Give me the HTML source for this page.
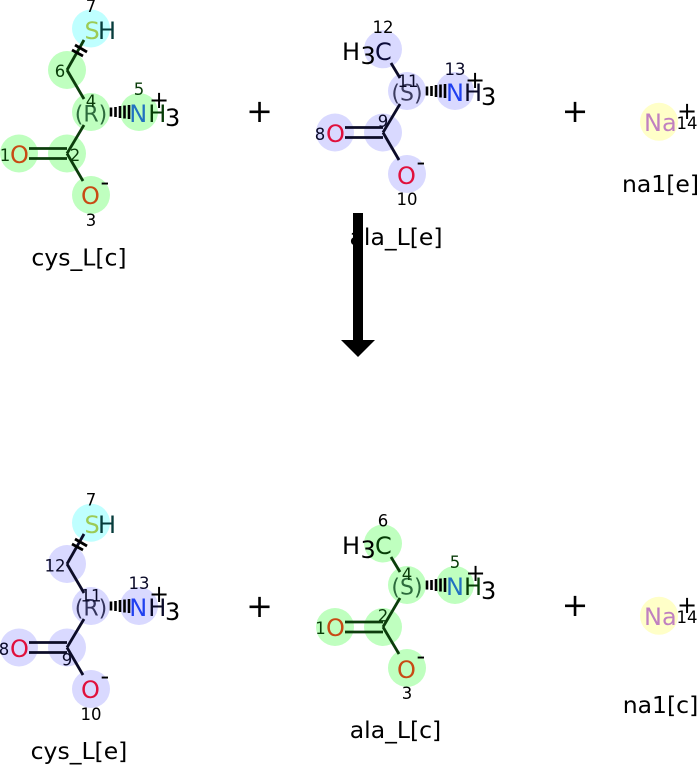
<!DOCTYPE html>
<html><head><meta charset="utf-8"><style>
html,body{margin:0;padding:0;background:#fff}
svg{display:block}
text{font-family:"DejaVu Sans",sans-serif;fill:#000}
.a{font-size:24px}.n{font-size:16.5px;text-anchor:middle}.l{font-size:23.5px;text-anchor:middle}
.c{font-size:22px;text-anchor:middle}
.b line{stroke:#000;stroke-width:2.8;fill:none}
.h line{stroke-width:2.6}
.gn{fill:#bfffbf}.pu{fill:#d9d9ff}.cy{fill:#bfffff}.ye{fill:#ffffc8}
.g line{stroke:#0c3d0c}.p line{stroke:#0c0c28}
.t line{stroke:#000}
.pl{font-size:32px;text-anchor:middle}
</style></head><body>
<svg width="697" height="765" viewBox="0 0 697 765" xmlns="http://www.w3.org/2000/svg">

<!-- Top left: cys_L[c] -->
<circle class="cy" cx="91" cy="28.500" r="19"/>
<g class="gn"><circle cx="67" cy="70" r="19"/><circle cx="91" cy="112" r="19"/><circle cx="139" cy="112" r="19"/><circle cx="67" cy="153.500" r="19"/><circle cx="19" cy="153.500" r="19"/><circle cx="91" cy="195" r="19"/></g>
<g class="b g">
<line x1="67" y1="70" x2="84" y2="40"/>
<line x1="67" y1="70" x2="84" y2="99"/>
<line x1="84" y1="125" x2="67" y2="153.500"/>
<line x1="29" y1="148.500" x2="67" y2="148.500"/><line x1="29" y1="158.500" x2="67" y2="158.500"/>
<line x1="67" y1="153.500" x2="83" y2="181"/>
</g>
<g class="b t"><line x1="72" y1="50" x2="83" y2="56"/><line x1="75" y1="45" x2="87" y2="52"/></g>
<g class="b h"><line x1="111" y1="107.500" x2="111" y2="116.500"/><line x1="115.500" y1="107" x2="115.500" y2="117"/><line x1="120" y1="106" x2="120" y2="118"/><line x1="124.500" y1="105.500" x2="124.500" y2="118.500"/><line x1="129" y1="105" x2="129" y2="119"/></g>
<text class="a" x="84.500" y="39" style="fill:#9ccb55">S</text><text class="a" x="98" y="39" style="fill:#063c3c">H</text>
<text class="n" x="91" y="12">7</text>
<text class="n" x="60" y="77" style="fill:#0a3d0a">6</text>
<text class="c" x="91" y="121.500" style="fill:#2c6b3c">(R)</text>
<text class="n" x="91" y="107" style="fill:#0a3d0a">4</text>
<text class="n" x="139" y="95" style="fill:#0a3d0a">5</text>
<text class="a" x="129.300" y="122" style="fill:#2272c0">N</text><text class="a" x="148.300" y="122" style="fill:#063c06">H</text><text class="a" x="165" y="126">3</text>
<text class="a" x="149" y="108">+</text>
<text class="a" x="10" y="163" style="fill:#c84a14">O</text>
<text class="n" x="5" y="161" style="fill:#0a3d0a">1</text>
<text class="n" x="75" y="161" style="fill:#0a3d0a">2</text>
<text class="a" x="81" y="204" style="fill:#c84a14">O</text>
<text class="a" x="100.500" y="190">-</text>
<text class="n" x="91" y="226">3</text>
<text class="l" x="79" y="265.500">cys_L[c]</text>

<!-- Top middle: ala_L[e] -->
<g class="pu"><circle cx="383" cy="49.300" r="19"/><circle cx="407" cy="91" r="19"/><circle cx="455" cy="91" r="19"/><circle cx="383" cy="132.500" r="19"/><circle cx="335" cy="132.500" r="19"/><circle cx="407" cy="174" r="19"/></g>
<g class="b p">
<line x1="391" y1="63" x2="400" y2="78"/>
<line x1="400" y1="104" x2="383" y2="132.500"/>
<line x1="345" y1="127.500" x2="383" y2="127.500"/><line x1="345" y1="137.500" x2="383" y2="137.500"/>
<line x1="383" y1="132.500" x2="399" y2="160"/>
</g>
<g class="b h"><line x1="427" y1="86.500" x2="427" y2="95.500"/><line x1="431.500" y1="86" x2="431.500" y2="96"/><line x1="436" y1="85" x2="436" y2="97"/><line x1="440.500" y1="84.500" x2="440.500" y2="97.500"/><line x1="445" y1="84" x2="445" y2="98"/></g>
<text class="a" x="342" y="60">H</text><text class="a" x="360.500" y="64">3</text><text class="a" x="375" y="60" style="fill:#0c0c3a">C</text>
<text class="n" x="383" y="33">12</text>
<text class="c" x="407" y="100.500" style="fill:#3c3c60">(S)</text>
<text class="n" x="408" y="87" style="fill:#0a0a28">11</text>
<text class="n" x="455" y="75" style="fill:#0a0a28">13</text>
<text class="a" x="446" y="101" style="fill:#2040f0">N</text><text class="a" x="464" y="101" style="fill:#0a0a28">H</text><text class="a" x="481" y="105">3</text>
<text class="a" x="465" y="88">+</text>
<text class="a" x="326" y="142" style="fill:#e0103c">O</text>
<text class="n" x="320" y="140" style="fill:#0a0a28">8</text>
<text class="n" x="383" y="127" style="fill:#0a0a28">9</text>
<text class="a" x="397" y="184" style="fill:#e0103c">O</text>
<text class="a" x="416.500" y="170">-</text>
<text class="n" x="407" y="205">10</text>
<text class="l" x="396" y="245">ala_L[e]</text>

<!-- Top right: na1[e] -->
<circle class="ye" cx="659" cy="121.800" r="19"/>
<text class="a" x="644" y="131" style="fill:#c080c0">Na</text>
<text class="a" x="677" y="119">+</text>
<text class="n" x="687" y="129">14</text>
<text class="l" x="660.500" y="192">na1[e]</text>

<!-- Plus signs -->
<text class="pl" x="259.500" y="122">+</text>
<text class="pl" x="575" y="122">+</text>
<text class="pl" x="259.500" y="617">+</text>
<text class="pl" x="575" y="616">+</text>

<!-- Arrow -->
<rect x="353" y="213" width="10" height="128" fill="#000"/>
<polygon points="341,340 375,340 358,357" fill="#000"/>

<!-- Bottom left: cys_L[e] -->
<circle class="cy" cx="91" cy="522.700" r="19"/>
<g class="pu"><circle cx="67" cy="564" r="19"/><circle cx="91" cy="606" r="19"/><circle cx="139" cy="606" r="19"/><circle cx="67" cy="647.500" r="19"/><circle cx="19" cy="647.500" r="19"/><circle cx="91" cy="689" r="19"/></g>
<g class="b p">
<line x1="67" y1="564" x2="84" y2="534"/>
<line x1="67" y1="564" x2="84" y2="593"/>
<line x1="84" y1="619" x2="67" y2="647.500"/>
<line x1="29" y1="642.500" x2="67" y2="642.500"/><line x1="29" y1="652.500" x2="67" y2="652.500"/>
<line x1="67" y1="647.500" x2="83" y2="675"/>
</g>
<g class="b t"><line x1="72" y1="544" x2="83" y2="550"/><line x1="75" y1="539" x2="87" y2="546"/></g>
<g class="b h"><line x1="111" y1="601.500" x2="111" y2="610.500"/><line x1="115.500" y1="601" x2="115.500" y2="611"/><line x1="120" y1="600" x2="120" y2="612"/><line x1="124.500" y1="599.500" x2="124.500" y2="612.500"/><line x1="129" y1="599" x2="129" y2="613"/></g>
<text class="a" x="84.500" y="533" style="fill:#9ccb55">S</text><text class="a" x="98" y="533" style="fill:#063c3c">H</text>
<text class="n" x="91" y="505.500">7</text>
<text class="n" x="55" y="571.500" style="fill:#0a0a28">12</text>
<text class="c" x="91" y="615.500" style="fill:#33335c">(R)</text>
<text class="n" x="91" y="601.500" style="fill:#0a0a28">11</text>
<text class="n" x="139" y="589" style="fill:#0a0a28">13</text>
<text class="a" x="129.300" y="616" style="fill:#2040f0">N</text><text class="a" x="148.300" y="616" style="fill:#0a0a28">H</text><text class="a" x="165" y="620">3</text>
<text class="a" x="149" y="602">+</text>
<text class="a" x="10" y="657" style="fill:#e0103c">O</text>
<text class="n" x="4" y="655" style="fill:#0a0a28">8</text>
<text class="n" x="67" y="665.500" style="fill:#0a0a28">9</text>
<text class="a" x="81" y="698" style="fill:#e0103c">O</text>
<text class="a" x="100.500" y="684">-</text>
<text class="n" x="91" y="720">10</text>
<text class="l" x="79" y="759">cys_L[e]</text>

<!-- Bottom middle: ala_L[c] -->
<g class="gn"><circle cx="383" cy="543.500" r="19"/><circle cx="407" cy="585" r="19"/><circle cx="455" cy="585" r="19"/><circle cx="383" cy="627" r="19"/><circle cx="335" cy="627" r="19"/><circle cx="407" cy="668" r="19"/></g>
<g class="b g">
<line x1="391" y1="557" x2="400" y2="572"/>
<line x1="400" y1="598" x2="383" y2="627"/>
<line x1="345" y1="622" x2="383" y2="622"/><line x1="345" y1="632" x2="383" y2="632"/>
<line x1="383" y1="627" x2="399" y2="654"/>
</g>
<g class="b h"><line x1="427" y1="580.500" x2="427" y2="589.500"/><line x1="431.500" y1="580" x2="431.500" y2="590"/><line x1="436" y1="579" x2="436" y2="591"/><line x1="440.500" y1="578.500" x2="440.500" y2="591.500"/><line x1="445" y1="578" x2="445" y2="592"/></g>
<text class="a" x="342" y="554">H</text><text class="a" x="360.500" y="558">3</text><text class="a" x="375" y="554" style="fill:#063c06">C</text>
<text class="n" x="383" y="526.500">6</text>
<text class="c" x="407" y="594.500" style="fill:#2c6b3c">(S)</text>
<text class="n" x="407" y="580" style="fill:#0a3d0a">4</text>
<text class="n" x="455" y="568" style="fill:#0a3d0a">5</text>
<text class="a" x="446" y="595" style="fill:#2272c0">N</text><text class="a" x="464" y="595" style="fill:#063c06">H</text><text class="a" x="481" y="599">3</text>
<text class="a" x="465.500" y="581">+</text>
<text class="a" x="326" y="636" style="fill:#c84a14">O</text>
<text class="n" x="320.500" y="634" style="fill:#0a3d0a">1</text>
<text class="n" x="383" y="621.500" style="fill:#0a3d0a">2</text>
<text class="a" x="397" y="678" style="fill:#c84a14">O</text>
<text class="a" x="416.500" y="664">-</text>
<text class="n" x="407" y="699">3</text>
<text class="l" x="395.500" y="738">ala_L[c]</text>

<!-- Bottom right: na1[c] -->
<circle class="ye" cx="659" cy="615.800" r="19"/>
<text class="a" x="644" y="625" style="fill:#c080c0">Na</text>
<text class="a" x="677" y="613">+</text>
<text class="n" x="687" y="623">14</text>
<text class="l" x="660.500" y="713">na1[c]</text>
</svg>
</body></html>
